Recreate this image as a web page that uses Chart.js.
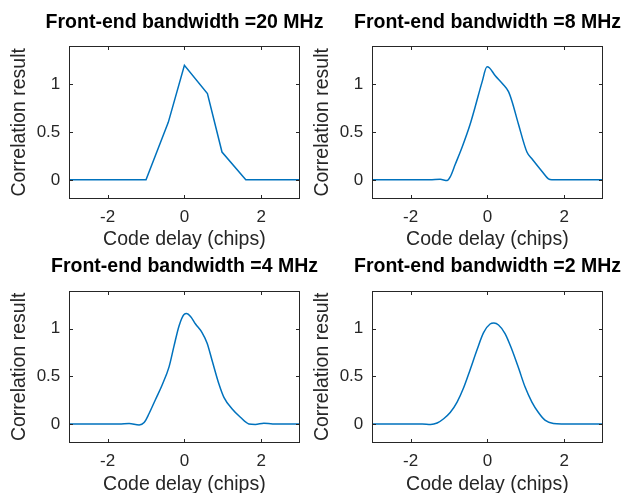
<!DOCTYPE html>
<html>
<head>
<meta charset="utf-8">
<script src="https://cdn.jsdelivr.net/npm/chart.js@4/dist/chart.umd.min.js"></script>
<style>
  html, body { margin: 0; padding: 0; background: #fff; overflow: hidden; }
  body { width: 622px; height: 493px; position: relative; }
  canvas { position: absolute; }
</style>
</head>
<body>
<canvas id="bw20" width="369" height="260" style="left:0;top:0"></canvas>
<canvas id="bw8" width="369" height="260" style="left:303px;top:0"></canvas>
<canvas id="bw4" width="369" height="260" style="left:0;top:245px"></canvas>
<canvas id="bw2" width="369" height="260" style="left:303px;top:245px"></canvas>
<script>
// values
const xTicks = [-2, 0, 2];
const yTicks = [0, 0.5, 1];
const xLabel = 'Code delay (chips)';
const yLabel = 'Correlation result';

const delay20 = [-3, -1, -0.42, 0, 0.6, 0.98, 1.6, 3];
const corr20 = [0, 0, 0.6, 1.195, 0.9, 0.29, 0, 0];

const delay8 = [-3, -1.5, -1.23, -1.05, -0.97, -0.84, -0.66, -0.45, -0.32, -0.14, -0.01, 0.05, 0.2, 0.4, 0.55, 0.64, 0.81, 1.03, 1.16, 1.42, 1.59, 1.68, 3];
const corr8 = [0, 0, 0.005, -0.007, 0.03, 0.16, 0.34, 0.58, 0.76, 1.02, 1.18, 1.17, 1.09, 1.0, 0.92, 0.82, 0.58, 0.29, 0.22, 0.09, 0.01, 0, 0];

const delay4 = [-3, -1.7, -1.44, -1.18, -1.05, -0.92, -0.75, -0.58, -0.4, -0.27, -0.14, -0.01, 0.06, 0.16, 0.29, 0.46, 0.59, 0.72, 0.9, 1.03, 1.24, 1.46, 1.68, 1.85, 2.07, 2.3, 3];
const corr4 = [0, 0, 0.006, -0.01, 0.015, 0.11, 0.26, 0.41, 0.6, 0.82, 1.03, 1.15, 1.16, 1.13, 1.05, 0.96, 0.85, 0.67, 0.42, 0.28, 0.16, 0.07, 0, -0.005, 0.008, 0, 0];

const delay2 = [-3, -1.7, -1.48, -1.31, -1.14, -0.97, -0.79, -0.62, -0.45, -0.27, -0.1, 0.07, 0.17, 0.29, 0.46, 0.64, 0.81, 0.98, 1.16, 1.33, 1.5, 1.72, 1.93, 3];
const corr2 = [0, 0, -0.005, 0.01, 0.055, 0.12, 0.23, 0.38, 0.57, 0.78, 0.96, 1.05, 1.06, 1.04, 0.95, 0.78, 0.59, 0.39, 0.23, 0.12, 0.04, 0.005, 0, 0];

const FONT = 'Arial, "Liberation Sans", Helvetica, sans-serif';
const AXIS_COLOR = '#262626';
const LINE_COLOR = '#0072BD';

// MATLAB-like box with inward ticks on all four sides
const matlabBox = {
  id: 'matlabBox',
  afterDraw(chart) {
    const { ctx, chartArea: a, scales } = chart;
    const L = Math.round(a.left) + 0.5, R = Math.round(a.right) - 0.5;
    const T = Math.round(a.top) + 0.5, B = Math.round(a.bottom) - 0.5;
    const len = 3.5;
    ctx.save();
    ctx.strokeStyle = AXIS_COLOR;
    ctx.lineWidth = 1;
    ctx.strokeRect(L, T, R - L, B - T);
    ctx.beginPath();
    scales.x.ticks.forEach(t => {
      const px = Math.round(scales.x.getPixelForValue(t.value)) + 0.5;
      ctx.moveTo(px, B); ctx.lineTo(px, B - len);
      ctx.moveTo(px, T); ctx.lineTo(px, T + len);
    });
    scales.y.ticks.forEach(t => {
      const py = Math.round(scales.y.getPixelForValue(t.value)) + 0.5;
      ctx.moveTo(L, py); ctx.lineTo(L + len, py);
      ctx.moveTo(R, py); ctx.lineTo(R - len, py);
    });
    ctx.stroke();
    ctx.restore();
  }
};

const rows = [
  { padTop: 11, titleGap: 11.3, xAxisHeight: 61 },
  { padTop: 10, titleGap: 12.3, xAxisHeight: 62 }
];

function makePanel(id, title, xs, ys, smooth, row) {
  const points = xs.map((x, i) => ({ x: x, y: ys[i] }));
  const tickFont = { family: FONT, size: 17 };
  const labelFont = { family: FONT, size: 19.5, lineHeight: 1.2 };
  return new Chart(document.getElementById(id), {
    type: 'line',
    data: {
      datasets: [{
        data: points,
        borderColor: LINE_COLOR,
        borderWidth: 1.5,
        pointRadius: 0,
        fill: false,
        tension: 0,
        cubicInterpolationMode: smooth ? 'monotone' : 'default'
      }]
    },
    options: {
      responsive: false,
      animation: false,
      devicePixelRatio: 1,
      layout: { padding: { top: row.padTop, right: 0, bottom: 0, left: 0 } },
      plugins: {
        legend: { display: false },
        tooltip: { enabled: false },
        title: {
          display: true,
          text: title,
          color: '#000',
          font: { family: FONT, size: 19.5, weight: 'bold', lineHeight: 1.2 },
          padding: { top: 0, bottom: row.titleGap }
        }
      },
      scales: {
        x: {
          type: 'linear',
          min: -3,
          max: 3,
          afterBuildTicks: s => { s.ticks = xTicks.map(v => ({ value: v })); },
          afterFit: s => { s.height = row.xAxisHeight; },
          grid: { display: false, drawTicks: false },
          border: { display: false },
          ticks: { color: AXIS_COLOR, font: tickFont, padding: 8, maxRotation: 0, callback: v => String(v) },
          title: { display: true, text: xLabel, color: AXIS_COLOR, font: labelFont, padding: { top: 0, bottom: 8.5 } }
        },
        y: {
          type: 'linear',
          min: -0.2,
          max: 1.4,
          afterBuildTicks: s => { s.ticks = yTicks.map(v => ({ value: v })); },
          afterFit: s => { s.width = 69.3; },
          grid: { display: false, drawTicks: false },
          border: { display: false },
          ticks: { color: AXIS_COLOR, font: tickFont, padding: 9, callback: v => String(v) },
          title: { display: true, text: yLabel, color: AXIS_COLOR, font: labelFont, padding: { top: 8.3, bottom: 0 } }
        },
        // empty right-hand spacer, same width as the left axis, so the title centres over the plot box
        spacer: {
          type: 'linear',
          position: 'right',
          min: 0,
          max: 1,
          afterFit: s => { s.width = 69.5; },
          grid: { display: false, drawTicks: false },
          border: { display: false },
          ticks: { display: false }
        }
      }
    },
    plugins: [matlabBox]
  });
}

makePanel('bw20', 'Front-end bandwidth =20 MHz', delay20, corr20, false, rows[0]);
makePanel('bw8', 'Front-end bandwidth =8 MHz', delay8, corr8, true, rows[0]);
makePanel('bw4', 'Front-end bandwidth =4 MHz', delay4, corr4, true, rows[1]);
makePanel('bw2', 'Front-end bandwidth =2 MHz', delay2, corr2, true, rows[1]);
</script>
</body>
</html>
